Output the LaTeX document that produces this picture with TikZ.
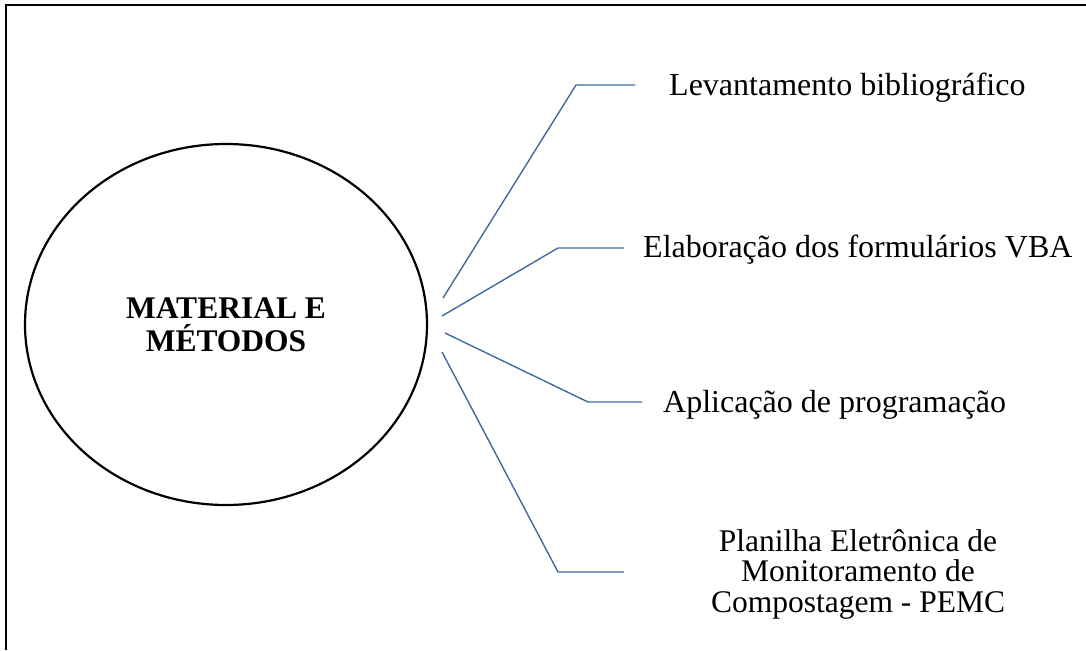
\documentclass[tikz,border=0pt]{standalone}
\usepackage{fontspec}
\setmainfont{Liberation Serif}
\definecolor{linkblue}{RGB}{65,105,160}
\begin{document}
\begin{tikzpicture}[x=1pt,y=-1pt,
  frame/.style={line width=2.4pt,black},
  link/.style={line width=1.4pt,linkblue},
  lbl/.style={font=\fontsize{32}{32}\selectfont,inner sep=0pt,anchor=base west}]
\useasboundingbox (0,0) rectangle (1086,650);
\draw[frame] (6,650) -- (6,5) -- (1086,5);
\draw[line width=2.2pt] (226,324.5) ellipse [x radius=201, y radius=180.5];
\node[font=\bfseries\fontsize{31.5}{33}\selectfont,align=center,inner sep=0pt,anchor=base] (mm) at (226,351) {MATERIAL E\\MÉTODOS};
\node[lbl] (lev) at (669,96) {Levantamento bibliográfico};
\node[lbl] (ela) at (643,257) {Elaboração dos formulários VBA};
\node[lbl] (apl) at (663,412) {Aplicação de programação};
\node[font=\fontsize{31.5}{30.5}\selectfont,align=center,inner sep=0pt,anchor=base] (pla) at (858,612) {Planilha Eletrônica de\\Monitoramento de\\Compostagem - PEMC};
\coordinate (s1) at (443,298); \coordinate (c1) at (576,85); \coordinate (e1) at (635,85);
\coordinate (s2) at (442,316); \coordinate (c2) at (558,248); \coordinate (e2) at (624,248);
\coordinate (s3) at (445,333); \coordinate (c3) at (588,402); \coordinate (e3) at (642,402);
\coordinate (s4) at (442,352); \coordinate (c4) at (558,572); \coordinate (e4) at (624,572);
\draw[link] (s1) -- (c1) -- (e1);
\draw[link] (s2) -- (c2) -- (e2);
\draw[link] (s3) -- (c3) -- (e3);
\draw[link] (s4) -- (c4) -- (e4);
\end{tikzpicture}
\end{document}
